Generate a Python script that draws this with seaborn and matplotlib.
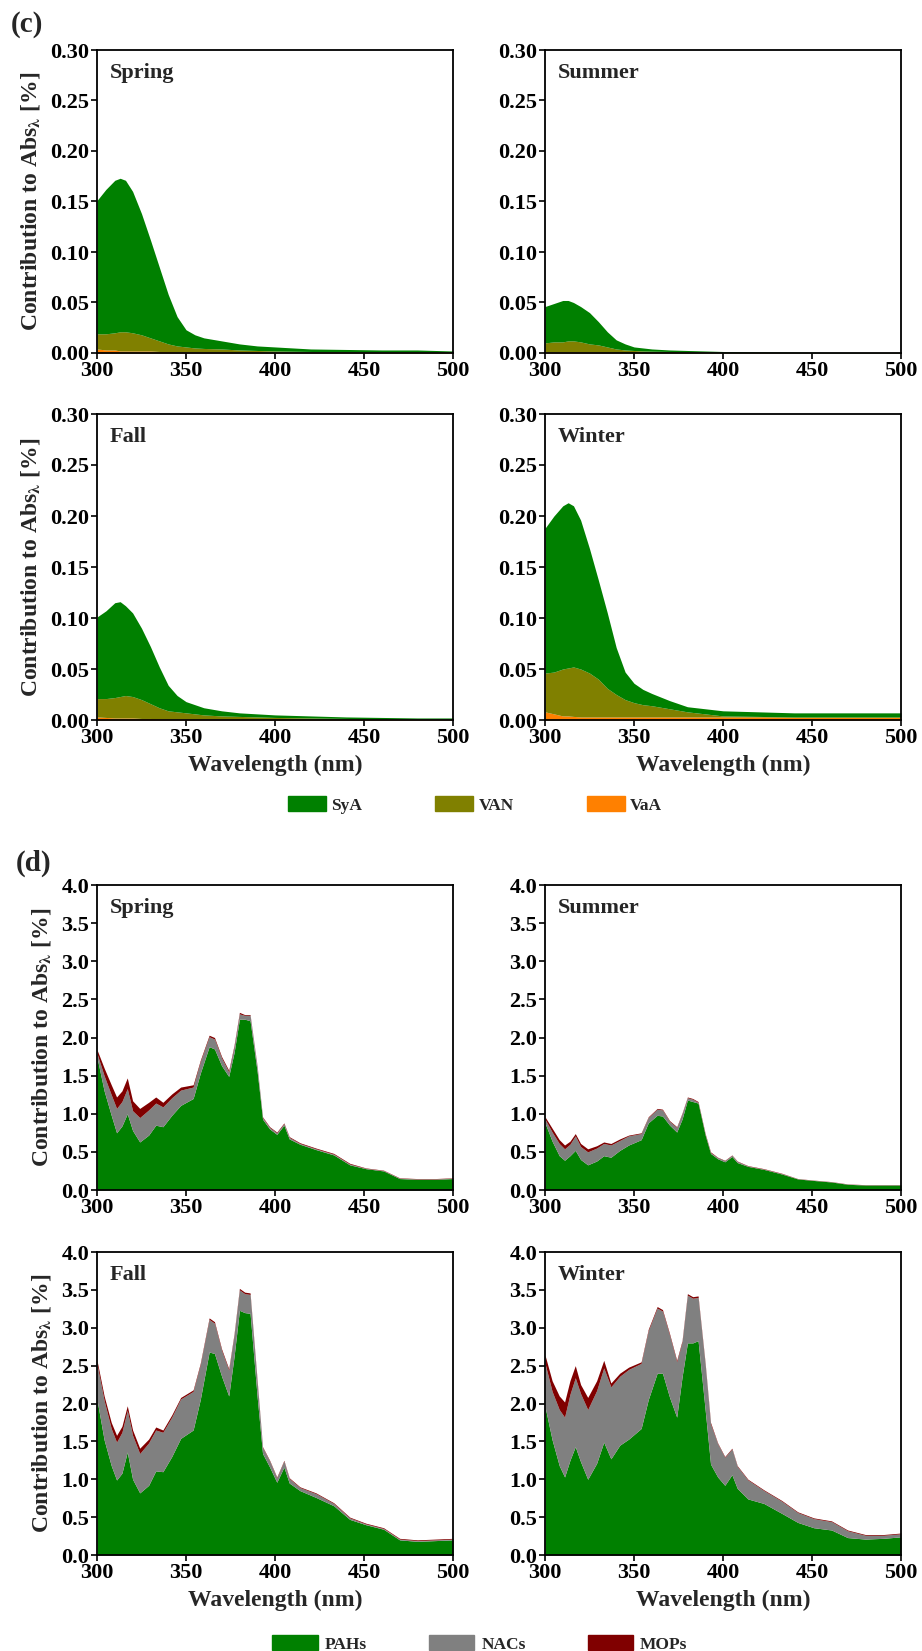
import matplotlib
matplotlib.use("Agg")
import matplotlib.pyplot as plt
from matplotlib.patches import Patch
import seaborn as sns

# ---- panel (c): SyA / VAN / VaA contributions ----
wl_c = [300, 305, 310, 313, 316, 320, 325, 330, 335, 340, 345, 350,
        355, 360, 370, 380, 390, 400, 420, 440, 460, 480, 500]

spring_vaa = [0.004, 0.003, 0.003, 0.002, 0.002, 0.002, 0.002, 0.002, 0.0015, 0.0015, 0.001, 0.001,
              0.001, 0.001, 0.001, 0.001, 0.001, 0.001, 0.0008, 0.0008, 0.0007, 0.0007, 0.0006]
spring_van = [0.015, 0.016, 0.017, 0.019, 0.019, 0.018, 0.016, 0.013, 0.0105, 0.0075, 0.006, 0.005,
              0.004, 0.0035, 0.003, 0.002, 0.0015, 0.001, 0.0007, 0.0004, 0.0003, 0.0003, 0.0004]
spring_sya = [0.132, 0.143, 0.151, 0.152, 0.150, 0.140, 0.120, 0.097, 0.073, 0.049, 0.029, 0.017,
              0.013, 0.0105, 0.008, 0.006, 0.0045, 0.004, 0.0025, 0.0023, 0.002, 0.002, 0.001]

summer_vaa = [0.001, 0.001, 0.001, 0.001, 0.001, 0.001, 0.001, 0.0008, 0.0007, 0.0006, 0.0005, 0.0005,
              0.0004, 0.0004, 0.0003, 0.0003, 0.0003, 0.0002, 0.0002, 0.0002, 0.0001, 0.0001, 0.0001]
summer_van = [0.009, 0.010, 0.010, 0.011, 0.011, 0.010, 0.008, 0.0072, 0.0053, 0.0034, 0.0025, 0.002,
              0.0016, 0.0014, 0.0012, 0.0009, 0.0007, 0.0006, 0.0003, 0.0002, 0.0002, 0.0002, 0.0002]
summer_sya = [0.036, 0.038, 0.041, 0.040, 0.038, 0.035, 0.031, 0.023, 0.015, 0.009, 0.006, 0.0035,
              0.003, 0.0022, 0.0015, 0.0013, 0.001, 0.0007, 0.0005, 0.0004, 0.0003, 0.0002, 0.0002]

fall_vaa = [0.003, 0.0025, 0.002, 0.002, 0.002, 0.002, 0.0015, 0.0015, 0.0012, 0.001, 0.001, 0.001,
            0.001, 0.001, 0.0008, 0.0008, 0.0007, 0.0007, 0.0006, 0.0006, 0.0005, 0.0005, 0.0005]
fall_van = [0.018, 0.0185, 0.020, 0.021, 0.022, 0.021, 0.0185, 0.0145, 0.0108, 0.008, 0.007, 0.006,
            0.005, 0.004, 0.0032, 0.0027, 0.0023, 0.0018, 0.0014, 0.0009, 0.0007, 0.0005, 0.0005]
fall_sya = [0.080, 0.086, 0.093, 0.093, 0.088, 0.082, 0.070, 0.056, 0.040, 0.025, 0.016, 0.011,
            0.009, 0.007, 0.005, 0.0035, 0.003, 0.0025, 0.002, 0.0015, 0.0013, 0.001, 0.001]

winter_vaa = [0.008, 0.006, 0.004, 0.004, 0.0035, 0.003, 0.003, 0.003, 0.003, 0.003, 0.003, 0.003,
              0.003, 0.003, 0.003, 0.003, 0.003, 0.003, 0.003, 0.0025, 0.0025, 0.0025, 0.0025]
winter_van = [0.038, 0.041, 0.046, 0.047, 0.0485, 0.047, 0.043, 0.037, 0.028, 0.022, 0.017, 0.014,
              0.012, 0.011, 0.008, 0.005, 0.003, 0.001, 0.0005, 0.0005, 0.0005, 0.0005, 0.0005]
winter_sya = [0.142, 0.153, 0.160, 0.162, 0.158, 0.146, 0.122, 0.097, 0.074, 0.046, 0.027, 0.019,
              0.015, 0.012, 0.008, 0.005, 0.005, 0.005, 0.0045, 0.004, 0.004, 0.004, 0.004]

# ---- panel (d): PAHs / NACs / MOPs contributions ----
wl_d = [300, 304, 308, 311, 314, 317, 320, 324, 329, 333, 337, 342, 347, 354, 358, 363, 366,
        370, 374, 377, 380, 383, 386, 390, 393, 397, 401, 405, 408, 414, 423, 433, 442, 451,
        461, 470, 480, 490, 500]

spring_pah = [1.74, 1.30, 0.98, 0.75, 0.84, 1.00, 0.78, 0.63, 0.72, 0.85, 0.83, 0.98, 1.11, 1.20,
              1.53, 1.88, 1.85, 1.63, 1.49, 1.80, 2.24, 2.24, 2.22, 1.55, 0.93, 0.80, 0.73, 0.85,
              0.67, 0.60, 0.53, 0.46, 0.33, 0.28, 0.25, 0.15, 0.14, 0.14, 0.15]
spring_nac = [0.05, 0.20, 0.27, 0.32, 0.32, 0.33, 0.26, 0.32, 0.33, 0.29, 0.26, 0.23, 0.20, 0.15,
              0.15, 0.13, 0.13, 0.10, 0.06, 0.08, 0.07, 0.05, 0.07, 0.06, 0.02, 0.02, 0.02, 0.02,
              0.02, 0.01, 0.01, 0.01, 0.01, 0.005, 0.005, 0.005, 0.005, 0.005, 0.005]
spring_mop = [0.05, 0.10, 0.13, 0.15, 0.14, 0.14, 0.13, 0.12, 0.10, 0.08, 0.06, 0.05, 0.04, 0.03,
              0.02, 0.02, 0.02, 0.02, 0.02, 0.02, 0.02, 0.01, 0.01, 0.01, 0.01, 0.01, 0.01, 0.01,
              0.01, 0.01, 0.01, 0.01, 0.01, 0.005, 0.005, 0.005, 0.005, 0.005, 0.005]

summer_pah = [0.88, 0.64, 0.45, 0.39, 0.45, 0.52, 0.40, 0.33, 0.38, 0.45, 0.43, 0.52, 0.59, 0.66,
              0.88, 0.98, 0.97, 0.85, 0.76, 0.93, 1.18, 1.16, 1.14, 0.72, 0.48, 0.41, 0.37, 0.44,
              0.36, 0.31, 0.27, 0.21, 0.145, 0.125, 0.105, 0.075, 0.065, 0.065, 0.065]
summer_nac = [0.05, 0.12, 0.16, 0.15, 0.15, 0.19, 0.17, 0.17, 0.17, 0.16, 0.16, 0.13, 0.12, 0.08,
              0.07, 0.08, 0.08, 0.05, 0.06, 0.07, 0.03, 0.03, 0.01, 0.01, 0.01, 0.015, 0.015, 0.015,
              0.015, 0.005, 0.005, 0.005, 0.0025, 0.0025, 0.0025, 0.0025, 0.0025, 0.0025, 0.0025]
summer_mop = [0.03, 0.05, 0.05, 0.05, 0.04, 0.03, 0.04, 0.04, 0.03, 0.02, 0.02, 0.02, 0.01, 0.01,
              0.01, 0.01, 0.01, 0.01, 0.01, 0.01, 0.01, 0.01, 0.01, 0.01, 0.01, 0.005, 0.005, 0.005,
              0.005, 0.005, 0.005, 0.005, 0.0025, 0.0025, 0.0025, 0.0025, 0.0025, 0.0025, 0.0025]

fall_pah = [2.05, 1.52, 1.18, 0.99, 1.08, 1.36, 1.00, 0.82, 0.92, 1.11, 1.10, 1.30, 1.54, 1.65,
            2.05, 2.68, 2.66, 2.36, 2.10, 2.62, 3.23, 3.20, 3.19, 2.08, 1.34, 1.16, 0.96, 1.16,
            0.95, 0.85, 0.76, 0.65, 0.47, 0.40, 0.34, 0.20, 0.18, 0.19, 0.20]
fall_nac = [0.47, 0.52, 0.49, 0.50, 0.54, 0.55, 0.58, 0.52, 0.56, 0.54, 0.52, 0.52, 0.52, 0.51,
            0.46, 0.43, 0.40, 0.34, 0.34, 0.28, 0.27, 0.25, 0.25, 0.20, 0.08, 0.08, 0.06, 0.08,
            0.06, 0.04, 0.05, 0.03, 0.02, 0.01, 0.01, 0.01, 0.01, 0.01, 0.01]
fall_mop = [0.05, 0.06, 0.08, 0.09, 0.08, 0.06, 0.07, 0.07, 0.05, 0.04, 0.03, 0.03, 0.02, 0.02,
            0.02, 0.02, 0.02, 0.02, 0.02, 0.02, 0.02, 0.02, 0.02, 0.02, 0.01, 0.01, 0.01, 0.01,
            0.01, 0.01, 0.01, 0.01, 0.01, 0.01, 0.01, 0.01, 0.01, 0.01, 0.01]

winter_pah = [1.96, 1.52, 1.18, 1.03, 1.25, 1.43, 1.23, 1.00, 1.21, 1.49, 1.27, 1.45, 1.53, 1.67,
              2.05, 2.40, 2.40, 2.08, 1.82, 2.35, 2.80, 2.80, 2.83, 1.91, 1.20, 1.03, 0.92, 1.06,
              0.88, 0.74, 0.68, 0.55, 0.43, 0.36, 0.33, 0.23, 0.21, 0.22, 0.24]
winter_nac = [0.57, 0.64, 0.74, 0.79, 0.87, 0.91, 0.90, 0.92, 0.96, 0.98, 0.95, 0.91, 0.92, 0.86,
              0.91, 0.86, 0.82, 0.82, 0.73, 0.46, 0.63, 0.59, 0.57, 0.60, 0.53, 0.44, 0.37, 0.34,
              0.29, 0.25, 0.17, 0.16, 0.13, 0.12, 0.11, 0.09, 0.05, 0.04, 0.04]
winter_mop = [0.11, 0.14, 0.18, 0.20, 0.18, 0.16, 0.12, 0.16, 0.13, 0.10, 0.05, 0.04, 0.03, 0.02,
              0.02, 0.02, 0.02, 0.02, 0.02, 0.02, 0.02, 0.02, 0.02, 0.02, 0.02, 0.01, 0.01, 0.01,
              0.01, 0.01, 0.01, 0.01, 0.01, 0.01, 0.01, 0.01, 0.01, 0.01, 0.01]

seasons = ["Spring", "Summer", "Fall", "Winter"]
c_labels = ["SyA", "VAN", "VaA"]
d_labels = ["PAHs", "NACs", "MOPs"]

# colours bottom -> top of the stack
c_colors = ["#FF8000", "#808000", "#008000"]
d_colors = ["#008000", "#808080", "#800000"]

sns.set_style("ticks")
plt.rcParams['font.family'] = ['Liberation Serif', 'DejaVu Serif']
plt.rcParams['font.weight'] = 'bold'
plt.rcParams['axes.labelweight'] = 'bold'
plt.rcParams['mathtext.fontset'] = 'stix'
plt.rcParams['mathtext.default'] = 'bf'

W, H = 922, 1651
fig = plt.figure(figsize=(W / 100, H / 100), dpi=100)


def add_ax(left, top, right, bottom):
    return fig.add_axes([left / W, 1 - bottom / H, (right - left) / W, (bottom - top) / H])


def draw(ax, wl, layers, colors, ymax, ystep, fmt, season, left_col, bottom_row):
    ax.stackplot(wl, *layers, colors=colors, linewidth=0)
    ax.set_xlim(300, 500)
    ax.set_ylim(0, ymax)
    ax.set_xticks([300, 350, 400, 450, 500])
    n = int(round(ymax / ystep))
    ax.set_yticks([i * ystep for i in range(n + 1)])
    ax.yaxis.set_major_formatter(plt.FormatStrFormatter(fmt))
    for s in ax.spines.values():
        s.set_visible(True)
        s.set_color("black")
        s.set_linewidth(1.3)
    ax.tick_params(direction="out", length=4, width=1.2, labelsize=16, pad=1.5,
                   color="black", labelcolor="black")
    ax.text(0.035, 0.925, season, transform=ax.transAxes, va="center", ha="left",
            fontsize=16, fontweight="bold")
    if left_col:
        ax.set_ylabel(r"Contribution to Abs$_{\lambda}$ [%]", fontsize=17, labelpad=6)
    if bottom_row:
        ax.set_xlabel("Wavelength (nm)", fontsize=17, labelpad=5)


cols = [(97, 453), (545, 901)]
c_rows = [(50, 353), (414, 720)]
d_rows = [(885, 1190), (1252, 1555)]

c_data = {
    "Spring": [spring_vaa, spring_van, spring_sya],
    "Summer": [summer_vaa, summer_van, summer_sya],
    "Fall": [fall_vaa, fall_van, fall_sya],
    "Winter": [winter_vaa, winter_van, winter_sya],
}
d_data = {
    "Spring": [spring_pah, spring_nac, spring_mop],
    "Summer": [summer_pah, summer_nac, summer_mop],
    "Fall": [fall_pah, fall_nac, fall_mop],
    "Winter": [winter_pah, winter_nac, winter_mop],
}

for i, season in enumerate(seasons):
    r, c = divmod(i, 2)
    ax = add_ax(cols[c][0], c_rows[r][0], cols[c][1], c_rows[r][1])
    draw(ax, wl_c, c_data[season], c_colors, 0.30, 0.05, "%.2f", season, c == 0, r == 1)
    ax = add_ax(cols[c][0], d_rows[r][0], cols[c][1], d_rows[r][1])
    draw(ax, wl_d, d_data[season], d_colors, 4.0, 0.5, "%.1f", season, c == 0, r == 1)

fig.text(27 / W, 1 - 25 / H, "(c)", fontsize=21, fontweight="bold", ha="center", va="center")
fig.text(34 / W, 1 - 863 / H, "(d)", fontsize=21, fontweight="bold", ha="center", va="center")

# legends (label order top -> bottom of the stack)
c_handles = [Patch(color=c_colors[2]), Patch(color=c_colors[1]), Patch(color=c_colors[0])]
fig.legend(c_handles, c_labels, loc="center", bbox_to_anchor=(475 / W, 1 - 805 / H), ncol=3,
           frameon=False, fontsize=12.5, handlelength=2.2, handleheight=0.9,
           handletextpad=0.3, columnspacing=4.2)
d_handles = [Patch(color=d_colors[0]), Patch(color=d_colors[1]), Patch(color=d_colors[2])]
fig.legend(d_handles, d_labels, loc="center", bbox_to_anchor=(480 / W, 1 - 1644 / H), ncol=3,
           frameon=False, fontsize=12.5, handlelength=2.6, handleheight=0.9,
           handletextpad=0.4, columnspacing=3.6)

fig.savefig("out.png", dpi=100)
